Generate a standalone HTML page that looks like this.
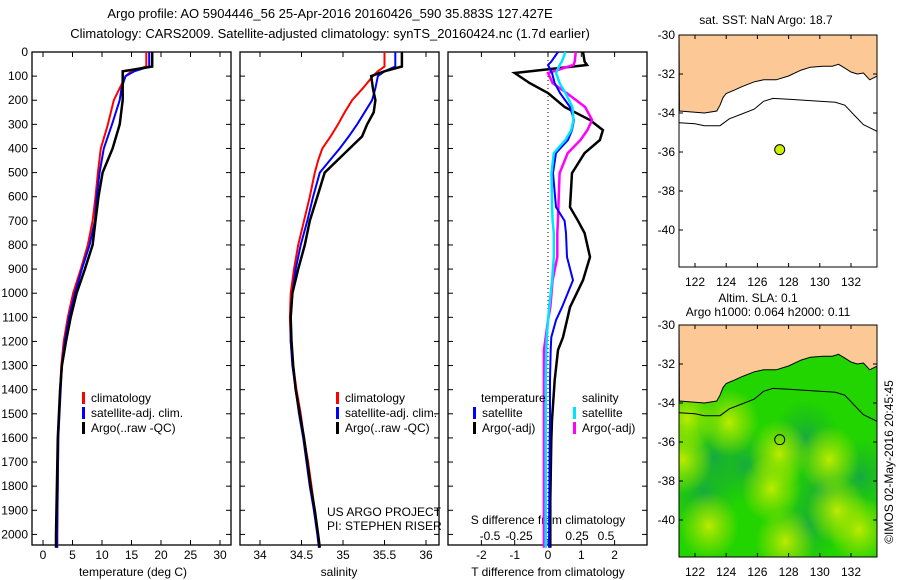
<!DOCTYPE html>
<html><head><meta charset="utf-8">
<style>
body{margin:0;background:#fff;}
svg{display:block;font-family:"Liberation Sans",sans-serif;}
text{fill:#000;}
</style></head>
<body>
<svg id="fig" width="900" height="580" viewBox="0 0 900 580" xmlns="http://www.w3.org/2000/svg">
<defs>
<radialGradient id="gy"><stop offset="0" stop-color="#d8f000" stop-opacity="0.85"/><stop offset="0.5" stop-color="#a8e400" stop-opacity="0.55"/><stop offset="1" stop-color="#a8e400" stop-opacity="0"/></radialGradient>
<radialGradient id="gd"><stop offset="0" stop-color="#14a050" stop-opacity="0.8"/><stop offset="0.55" stop-color="#18b030" stop-opacity="0.45"/><stop offset="1" stop-color="#18b030" stop-opacity="0"/></radialGradient>
<clipPath id="clipBot"><rect x="679" y="325" width="198" height="232"/></clipPath>
<clipPath id="clipTop"><rect x="679" y="35" width="198" height="232"/></clipPath>
</defs>
<text x="330" y="18" font-size="13" text-anchor="middle">Argo profile: AO 5904446_56 25-Apr-2016 20160426_590 35.883S 127.427E</text>
<text x="330" y="38" font-size="13" text-anchor="middle">Climatology: CARS2009. Satellite-adjusted climatology: synTS_20160424.nc (1.7d earlier)</text>
<g id="g1"></g><g id="g2"></g><g id="g3"></g><g id="gm"></g>
</svg>
<script>
// ---- data ----
const depthT = [0,60,80,100,150,200,300,400,500,600,700,800,900,1000,1100,1200,1300,1400,1600,2000,2055];
const tempClim = [17.5,17.5,15,14,13,12,11,9.8,9.3,8.9,8.4,7.6,6.4,5.1,4.2,3.5,3.1,2.9,2.6,2.4,2.4];
const tempSat  = [18,18,15.5,14,13.3,13,11.7,10.3,9.6,9.1,8.8,7.9,6.6,5.4,4.4,3.7,3.2,3.0,2.6,2.4,2.4];
const tempArgo = [18.5,18.5,13.5,13.5,13.5,13.5,13,11.8,10.1,9.4,8.9,8.4,7.1,5.7,4.7,3.9,3.2,2.9,2.5,2.2,2.2];
const depthS = [0,60,80,100,150,200,250,300,350,400,450,500,600,700,800,900,1000,1100,1200,1300,1400,1500,1600,1700,1800,1900,2000,2055];
const salClim = [35.5,35.5,35.42,35.36,35.24,35.11,35.02,34.94,34.85,34.75,34.7,34.66,34.6,34.53,34.46,34.41,34.37,34.36,34.37,34.4,34.44,34.49,34.53,34.58,34.62,34.66,34.7,34.72];
const salSat  = [35.63,35.63,35.5,35.42,35.39,35.35,35.26,35.17,35.07,34.96,34.84,34.72,34.64,34.57,34.49,34.43,34.39,34.37,34.37,34.39,34.43,34.47,34.52,34.56,34.6,34.65,34.69,34.71];
const salArgo = [35.71,35.71,35.5,35.34,35.36,35.39,35.37,35.29,35.23,35.08,34.93,34.78,34.69,34.6,34.54,34.46,34.39,34.37,34.38,34.4,34.43,34.48,34.53,34.57,34.61,34.66,34.7,34.72];
const depthD = [0,40,54,87,129,170,228,282,324,365,419,502,643,700,751,850,946,1058,1112,1183,1236,1360,1526,1610,1858,2055];
const dTsat  = [0.3,0.1,0,0.12,0.2,0.36,0.66,0.78,0.72,0.6,0.24,0.15,0.24,0.5,0.54,0.57,0.75,0.42,0.24,0.1,0.08,0.06,0.06,0.05,0.04,0.03];
const dTargo = [1.05,1.1,1.17,-1.0,-0.55,0,0.5,1.26,1.65,1.56,1.1,0.72,0.66,0.9,1.1,1.26,1.05,0.66,0.57,0.45,0.3,0.2,0.12,0.1,0.07,0.07];
const dSsat  = [0.15,0.12,0.1,0.07,0.1,0.15,0.21,0.22,0.2,0.15,0.05,0.03,0.035,0.04,0.05,0.05,0.035,0.01,0,-0.01,-0.015,-0.02,-0.02,-0.02,-0.02,-0.02];
const dSargo = [0.24,0.23,0.22,0,0.04,0.16,0.32,0.38,0.34,0.28,0.17,0.1,0.09,0.085,0.08,0.08,0.04,0.02,0,-0.02,-0.035,-0.035,-0.035,-0.035,-0.035,-0.035];
const depthTicks = [0,100,200,300,400,500,600,700,800,900,1000,1100,1200,1300,1400,1500,1600,1700,1800,1900,2000];
const tempTicks = [0,5,10,15,20,25,30];
const salTicks = [34,34.5,35,35.5,36];
const salTickLabels = ["34","34.5","35","35.5","36"];
const dTTicks = [-2,-1,0,1,2];
const dSTicks = [-0.5,-0.25,0,0.25,0.5];
const dSTickLabels = ["-0.5","-0.25","0","0.25","0.5"];
const coastLon = [121,121.8,122.6,123.4,123.6,123.8,124,124.6,125,125.8,126.4,127.2,128,128.8,129.4,130.2,130.8,131.2,131.6,132,132.4,132.8,133.2,133.7];
const coastLat = [-33.9,-33.95,-34.0,-33.9,-33.6,-33.2,-33.0,-32.8,-32.65,-32.4,-32.3,-32.3,-32.1,-31.8,-31.65,-31.6,-31.6,-31.5,-31.7,-31.9,-32.0,-31.95,-32.3,-32.1];
const isoLon = [121,122,122.6,123.6,124.2,125,125.8,126.4,127,128,129,130,131,131.6,132.2,132.8,133.7];
const isoLat = [-34.5,-34.55,-34.65,-34.65,-34.3,-34.05,-33.8,-33.4,-33.25,-33.3,-33.35,-33.4,-33.45,-33.6,-34.1,-34.6,-34.95];
const argoLon = 127.43, argoLat = -35.88;
const yellowLon = [121.2,127.4,122.9,127.8,124.2,130.6,132.5,126.9,131.1,121.5];
const yellowLat = [-36.9,-36.6,-40.3,-41.1,-35.0,-36.9,-40.5,-38.4,-39.5,-34.8];
const darkLon = [129.1,132.6,122.6,129.2,125.2,123.2,130.2];
const darkLat = [-35.8,-37.8,-38.6,-40.3,-37.2,-36.8,-38.5];
const mapLonTicks = [122,124,126,128,130,132];
const mapLatTicks = [-30,-32,-34,-36,-38,-40];

// ---- helpers ----
const NS="http://www.w3.org/2000/svg";
function mk(tag, parent, attrs){const e=document.createElementNS(NS,tag);for(const k in attrs)e.setAttribute(k,attrs[k]);parent.appendChild(e);return e;}
function txt(parent,x,y,s,anchor,size){const t=mk('text',parent,{x:x,y:y,'font-size':size||12,'text-anchor':anchor||'middle'});t.textContent=s;return t;}
const Y0=52, YK=0.2412, PB=545;
const yD=d=>Y0+d*YK;
const xT=v=>43+v*5.9;
const xS=v=>260+(v-34)*83;
const xDT=v=>548+v*33.3;
const xDS=v=>548+v*116;

function panel(g,x0,x1,name){
  const r=mk('rect',g,{x:x0,y:Y0,width:x1-x0,height:PB-Y0,fill:'none',stroke:'#000','stroke-width':1.3});
  
  
}
function xticks(g,xs,fn,labels,ly){
  xs.forEach((v,i)=>{const x=fn(v);
    mk('line',g,{x1:x,x2:x,y1:Y0,y2:Y0+5,stroke:'#000'});
    mk('line',g,{x1:x,x2:x,y1:PB,y2:PB-5,stroke:'#000'});
    if(labels){const t=txt(g,x,ly,labels[i]);
      
      }
  });
}
function yticks(g,x0,x1){depthTicks.forEach(d=>{const y=yD(d);
  mk('line',g,{x1:x0,x2:x0+5,y1:y,y2:y,stroke:'#000'});
  mk('line',g,{x1:x1,x2:x1-5,y1:y,y2:y,stroke:'#000'});});}
function line(g,xs,ys,fx,color,w,name){
  const pts=xs.map((v,i)=>fx(v).toFixed(1)+','+yD(ys[i]).toFixed(1)).join(' ');
  const p=mk('polyline',g,{points:pts,fill:'none',stroke:color,'stroke-width':w,'stroke-linejoin':'miter'});
  
  
}
function legend(g,x,y,items){items.forEach((it,i)=>{
  const yy=y+i*15;
  mk('rect',g,{x:x,y:yy-10,width:3,height:12,fill:it[1]});
  const t=txt(g,x+9,yy,it[0],'start');
  
  
});}

// ---- panel 1: temperature ----
const g1=document.getElementById('g1');


panel(g1,32,231,'temperature-axes');
yticks(g1,32,231);
depthTicks.forEach(d=>{const t=txt(g1,28,yD(d)+4,String(d),'end');
  
  });
xticks(g1,tempTicks,xT,tempTicks.map(String),559);
const t1=txt(g1,133,576,'temperature (deg C)');


line(g1,tempClim,depthT,xT,'#ff0000',2,'climatology-temp-line');
line(g1,tempSat,depthT,xT,'#0000ff',2,'satellite-temp-line');
line(g1,tempArgo,depthT,xT,'#000000',2.5,'argo-temp-line');
legend(g1,82,402,[['climatology','#ff0000'],['satellite-adj. clim.','#0000ff'],['Argo(..raw -QC)','#000']]);

// ---- panel 2: salinity ----
const g2=document.getElementById('g2');


panel(g2,240,439,'salinity-axes');
yticks(g2,240,439);
xticks(g2,salTicks,xS,salTickLabels,559);
const t2=txt(g2,339,576,'salinity');


line(g2,salClim,depthS,xS,'#ff0000',2,'climatology-sal-line');
line(g2,salSat,depthS,xS,'#0000ff',2,'satellite-sal-line');
line(g2,salArgo,depthS,xS,'#000000',2.5,'argo-sal-line');
legend(g2,336,402,[['climatology','#ff0000'],['satellite-adj. clim.','#0000ff'],['Argo(..raw -QC)','#000']]);
const c1=txt(g2,327,516,'US ARGO PROJECT','start');


const c2=txt(g2,327,530,'PI: STEPHEN RISER','start');



// ---- panel 3: differences ----
const g3=document.getElementById('g3');


panel(g3,448,647,'difference-axes');
yticks(g3,448,647);
xticks(g3,dTTicks,xDT,dTTicks.map(String),559);
const zl=mk('line',g3,{x1:xDT(0),x2:xDT(0),y1:Y0,y2:PB,stroke:'#000','stroke-dasharray':'1,3'});


dSTicks.forEach((v,i)=>{const t=txt(g3,xDS(v),540,dSTickLabels[i]);
  
  });
const t3=txt(g3,548,524,'S difference from climatology');


const t4=txt(g3,548,576,'T difference from climatology');


line(g3,dTargo,depthD,xDT,'#000000',2.5,'argo-t-diff-line');
line(g3,dSargo,depthD,xDS,'#ff00ff',2.5,'argo-s-diff-line');
line(g3,dTsat,depthD,xDT,'#0000ff',2,'satellite-t-diff-line');
line(g3,dSsat,depthD,xDS,'#00e5ff',2.5,'satellite-s-diff-line');
const lt=txt(g3,481,402,'temperature','start');


const ls=txt(g3,582,402,'salinity','start');


legend(g3,473,417,[['satellite','#0000ff'],['Argo(-adj)','#000']]);
legend(g3,573,417,[['satellite','#00e5ff'],['Argo(-adj)','#ff00ff']]);

// ---- maps ----
const gm=document.getElementById('gm');


const MX0=679,MX1=877;
const mX=lon=>695+(lon-122)*15.6;
function drawMap(top,clipId,isSla,name){
  const mY=lat=>top+(-30-lat)*19.5;
  const g=mk('g',gm,{});
  
  
  const gc=mk('g',g,{'clip-path':'url(#'+clipId+')'});
  mk('rect',gc,{x:MX0,y:top,width:MX1-MX0,height:232,fill:isSla?'#22d400':'#fff'});
  if(isSla){
    darkLon.forEach((lo,i)=>{mk('ellipse',gc,{cx:mX(lo),cy:mY(darkLat[i]),rx:34,ry:38,fill:'url(#gd)'});});
    yellowLon.forEach((lo,i)=>{mk('ellipse',gc,{cx:mX(lo),cy:mY(yellowLat[i]),rx:30,ry:34,fill:'url(#gy)'});});
  }
  let pts=coastLon.map((lo,i)=>mX(lo).toFixed(1)+','+mY(coastLat[i]).toFixed(1));
  const land=mk('polygon',gc,{points:pts.join(' ')+' '+MX1+','+top+' '+MX0+','+top,fill:'#fcc896',stroke:'#000','stroke-width':1});
  
  
  const iso=mk('polyline',gc,{points:isoLon.map((lo,i)=>mX(lo).toFixed(1)+','+mY(isoLat[i]).toFixed(1)).join(' '),fill:'none',stroke:'#000','stroke-width':1});
  
  
  const dot=mk('circle',g,{cx:mX(argoLon),cy:mY(argoLat),r:5,fill:isSla?'none':'#ccee00',stroke:'#000','stroke-width':1});
  
  
  mk('rect',g,{x:MX0,y:top,width:MX1-MX0,height:232,fill:'none',stroke:'#000','stroke-width':1});
  mapLonTicks.forEach(lo=>{const x=mX(lo);
    mk('line',g,{x1:x,x2:x,y1:top,y2:top+4,stroke:'#000'});
    mk('line',g,{x1:x,x2:x,y1:top+232,y2:top+228,stroke:'#000'});
    const t=txt(g,x,top+251,String(lo));
    
    });
  mapLatTicks.forEach(la=>{const y=mY(la);
    mk('line',g,{x1:MX0,x2:MX0+4,y1:y,y2:y,stroke:'#000'});
    mk('line',g,{x1:MX1,x2:MX1-4,y1:y,y2:y,stroke:'#000'});
    const t=txt(g,675,y+4,String(la),'end');
    
    });
}
drawMap(35,'clipTop',false,'sst-map');
drawMap(325,'clipBot',true,'sla-map');
const m1=txt(gm,766,24,'sat. SST: NaN Argo: 18.7');


const m2=txt(gm,758,302,'Altim. SLA: 0.1');


const m3=txt(gm,768,316,'Argo h1000: 0.064 h2000: 0.11');


const st=txt(gm,0,0,'\u00A9IMOS 02-May-2016 20:45:45','middle');
st.setAttribute('transform','translate(893,462) rotate(-90)');


</script>
</body></html>
